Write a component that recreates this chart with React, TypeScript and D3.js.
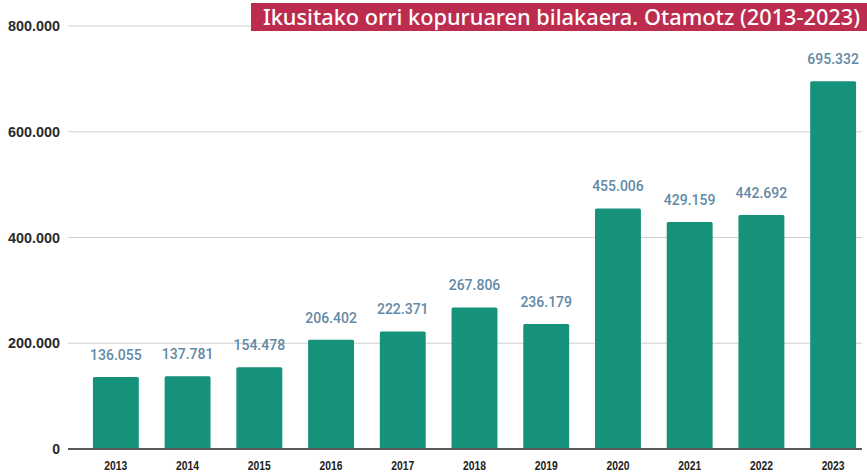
import React from "react";
import * as d3 from "d3";

const years = ["2013","2014","2015","2016","2017","2018","2019","2020","2021","2022","2023"];
const views = [136055,137781,154478,206402,222371,267806,236179,455006,429159,442692,695332];
const yTicks = [0,200000,400000,600000,800000];
const title = "Ikusitako orri kopuruaren bilakaera. Otamotz (2013-2023)";

const fmt = (v: number) => d3.format(",")(v).replace(/,/g, ".");

export default function App() {
  const W = 867, H = 474;
  const y = d3.scaleLinear().domain([0, 800000]).range([449, 26]);
  const x = d3.scaleBand<string>().domain(years).range([80, 869]).paddingInner(0.36).paddingOuter(0.18);
  const gridX0 = 68, gridX1 = 862;
  return (
    <svg width={W} height={H} style={{ position: "absolute", left: 0, top: 0, background: "#fff" }}>
      {yTicks.filter(t => t > 0).map(t => (
        <line key={t} x1={gridX0} x2={gridX1} y1={y(t)} y2={y(t)} stroke="#cfcfcf" strokeWidth={1} />
      ))}
      {yTicks.map(t => (
        <text key={t} x={60} y={y(t) + 5} textAnchor="end" fontFamily="Liberation Sans, Arial, sans-serif" fontWeight="bold" fontSize={14} textLength={t === 0 ? undefined : 52} lengthAdjust="spacingAndGlyphs" fill="#2a2a2a">{fmt(t)}</text>
      ))}
      {years.map((yr, i) => (
        <g key={yr}>
          <rect x={x(yr)} y={y(views[i])} width={x.bandwidth()} height={y(0) - y(views[i])} fill="#16917A" rx={1.5} />
          <text x={(x(yr) as number) + x.bandwidth() / 2} y={y(views[i]) - 17} textAnchor="middle" fontFamily="Roboto, sans-serif" fontWeight={500} fontSize={14} fill="#6289a6">{fmt(views[i])}</text>
          <text x={(x(yr) as number) + x.bandwidth() / 2} y={470} textAnchor="middle" fontFamily="Liberation Sans, Arial, sans-serif" fontWeight="bold" fontSize={12} textLength={23} lengthAdjust="spacingAndGlyphs" fill="#222">{yr}</text>
        </g>
      ))}
      <line x1={gridX0} x2={gridX1} y1={y(0)} y2={y(0)} stroke="#5a5a5a" strokeWidth={2} />
      <rect x={251} y={3} width={W - 251} height={28} fill="#BC2C4E" />
      <text x={263} y={25} fontFamily="Noto Sans, sans-serif" fontWeight={500} fontSize={21} fill="#fff" textLength={597} lengthAdjust="spacingAndGlyphs">{title}</text>
    </svg>
  );
}
